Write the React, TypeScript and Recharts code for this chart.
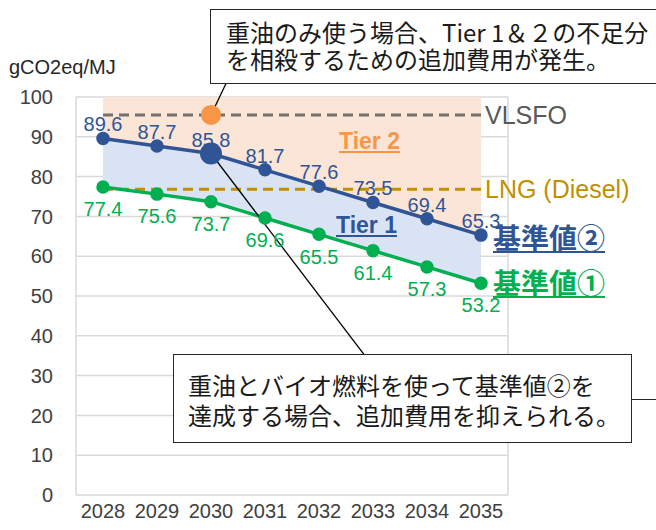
import {
  Area,
  CartesianGrid,
  ComposedChart,
  LabelList,
  Line,
  ReferenceDot,
  ReferenceLine,
  XAxis,
  YAxis
} from 'recharts'

const years = [2028, 2029, 2030, 2031, 2032, 2033, 2034, 2035]
const benchmark2 = [89.6, 87.7, 85.8, 81.7, 77.6, 73.5, 69.4, 65.3]
const benchmark1 = [77.4, 75.6, 73.7, 69.6, 65.5, 61.4, 57.3, 53.2]
const yTicks = [0, 10, 20, 30, 40, 50, 60, 70, 80, 90, 100]
const VLSFO = 95.5
const LNG = 76.8
const TOP = 100

const BLUE = '#2F5597'
const GREEN = '#00B050'
const ORANGE = '#F79646'
const GOLD = '#BF9000'
const GRID = '#D9D9D9'
const FONT = '"Liberation Sans", Arial, "Noto Sans CJK JP", sans-serif'
const JP_FONT = '"Noto Sans CJK JP", "Liberation Sans", sans-serif'

const data = years.map((year, i) => ({
  year,
  b2: benchmark2[i],
  b1: benchmark1[i],
  tier1: [benchmark1[i], benchmark2[i]],
  tier2: [benchmark2[i], TOP]
}))

// tick marks sit on the category boundaries, labels in the middle
const boundaries = [...years.map((y) => y - 0.5), years[years.length - 1] + 0.5]
const domain = [boundaries[0], boundaries[boundaries.length - 1]]

const abs = (left: number, top: number): React.CSSProperties => ({
  position: 'absolute',
  left,
  top,
  whiteSpace: 'nowrap'
})

export default function App() {
  return (
    <div
      style={{
        position: 'absolute',
        left: 0,
        top: 0,
        width: 656,
        height: 530,
        overflow: 'hidden',
        background: '#fff',
        fontFamily: FONT
      }}
    >
      <ComposedChart
        width={656}
        height={530}
        data={data}
        margin={{ top: 97, right: 148, bottom: 7, left: 26 }}
        style={{ fontFamily: FONT }}
      >
        <CartesianGrid vertical={false} stroke={GRID} strokeWidth={1.5} />
        <XAxis
          xAxisId="t"
          dataKey="year"
          type="number"
          domain={domain}
          ticks={boundaries}
          tickFormatter={() => ''}
          height={0}
          tickSize={7}
          axisLine={{ stroke: GRID, strokeWidth: 1.5 }}
          tickLine={{ stroke: GRID, strokeWidth: 1.5 }}
        />
        <XAxis
          dataKey="year"
          type="number"
          domain={domain}
          ticks={years}
          interval={0}
          height={28}
          tickSize={0}
          tickMargin={9}
          axisLine={false}
          tickLine={false}
          tick={{ fill: '#404040', fontSize: 20 }}
        />
        <YAxis
          domain={[0, 100]}
          ticks={yTicks}
          width={50}
          tickLine={false}
          tickMargin={17}
          axisLine={{ stroke: GRID, strokeWidth: 1.5 }}
          tick={{ fill: '#404040', fontSize: 20 }}
        />
        <ReferenceLine x={domain[1]} stroke={GRID} strokeWidth={1.5} />

        <Area
          type="linear"
          dataKey="tier2"
          stroke="none"
          fill="#FBE5D6"
          fillOpacity={1}
          isAnimationActive={false}
        />
        <Area
          type="linear"
          dataKey="tier1"
          stroke="none"
          fill="#DAE3F3"
          fillOpacity={1}
          isAnimationActive={false}
        />

        <ReferenceLine
          segment={[
            { x: years[0], y: VLSFO },
            { x: years[years.length - 1], y: VLSFO }
          ]}
          stroke="#767171"
          strokeWidth={3}
          strokeDasharray="10 6"
          label={{ value: 'VLSFO', position: 'right', fill: '#595959', fontSize: 25, offset: 4 }}
        />
        <ReferenceLine
          segment={[
            { x: years[0], y: LNG },
            { x: years[years.length - 1], y: LNG }
          ]}
          stroke={GOLD}
          strokeWidth={3}
          strokeDasharray="10 6"
          label={{ value: 'LNG (Diesel)', position: 'right', fill: GOLD, fontSize: 25, offset: 4 }}
        />

        <Line
          type="linear"
          dataKey="b1"
          stroke={GREEN}
          strokeWidth={3.5}
          dot={{ r: 5, fill: GREEN, stroke: GREEN }}
          isAnimationActive={false}
        >
          <LabelList dataKey="b1" position="bottom" offset={15} fill={GREEN} fontSize={20} />
        </Line>
        <Line
          type="linear"
          dataKey="b2"
          stroke={BLUE}
          strokeWidth={3.5}
          dot={{ r: 5, fill: BLUE, stroke: BLUE }}
          isAnimationActive={false}
        >
          <LabelList dataKey="b2" position="top" offset={7} fill={BLUE} fontSize={20} />
        </Line>

        <ReferenceDot x={2030} y={benchmark2[2]} r={11} fill={BLUE} stroke="none" />
        <ReferenceDot x={2030} y={VLSFO} r={10} fill={ORANGE} stroke="none" />

        {/* callout pointers */}
        <ReferenceLine
          segment={[
            { x: 2030, y: VLSFO },
            { x: 2030.3, y: 104 }
          ]}
          stroke="#000"
          strokeWidth={1.3}
          ifOverflow="visible"
        />
        <ReferenceLine
          segment={[
            { x: 2030, y: benchmark2[2] },
            { x: 2032.85, y: 35 }
          ]}
          stroke="#000"
          strokeWidth={1.3}
          ifOverflow="visible"
        />
      </ComposedChart>

      <div style={{ ...abs(9, 56), fontSize: 20, color: '#262626' }}>gCO2eq/MJ</div>

      <div
        style={{
          ...abs(339, 128),
          fontSize: 23,
          fontWeight: 'bold',
          color: ORANGE,
          textDecoration: 'underline'
        }}
      >
        Tier 2
      </div>
      <div
        style={{
          ...abs(336, 212),
          fontSize: 23,
          fontWeight: 'bold',
          color: BLUE,
          textDecoration: 'underline'
        }}
      >
        Tier 1
      </div>
      <div
        style={{
          ...abs(493, 219),
          fontSize: 28,
          fontWeight: 'bold',
          color: BLUE,
          textDecoration: 'underline',
          fontFamily: JP_FONT,
          lineHeight: '36px'
        }}
      >
        基準値②
      </div>
      <div
        style={{
          ...abs(493, 264),
          fontSize: 28,
          fontWeight: 'bold',
          color: GREEN,
          textDecoration: 'underline',
          fontFamily: JP_FONT,
          lineHeight: '36px'
        }}
      >
        基準値①
      </div>

      <div
        style={{
          ...abs(210, 9),
          width: 460,
          height: 75,
          border: '1.5px solid #262626',
          background: '#fff',
          boxSizing: 'border-box',
          padding: '8px 0 0 15px',
          fontSize: 24,
          lineHeight: '27px',
          color: '#1a1a1a',
          fontFamily: JP_FONT
        }}
      >
        重油のみ使う場合、Tier 1＆２の不足分
        <br />
        を相殺するための追加費用が発生。
      </div>

      <div
        style={{
          ...abs(173, 354),
          width: 459,
          height: 89,
          border: '1.5px solid #262626',
          background: '#fff',
          boxSizing: 'border-box',
          padding: '15px 0 0 14px',
          fontSize: 24,
          lineHeight: '30px',
          color: '#1a1a1a',
          fontFamily: JP_FONT
        }}
      >
        重油とバイオ燃料を使って基準値②を
        <br />
        達成する場合、追加費用を抑えられる。
      </div>
      <div
        style={{
          position: 'absolute',
          left: 632,
          top: 399,
          width: 30,
          height: 0,
          borderTop: '1.5px solid #262626'
        }}
      />
    </div>
  )
}
